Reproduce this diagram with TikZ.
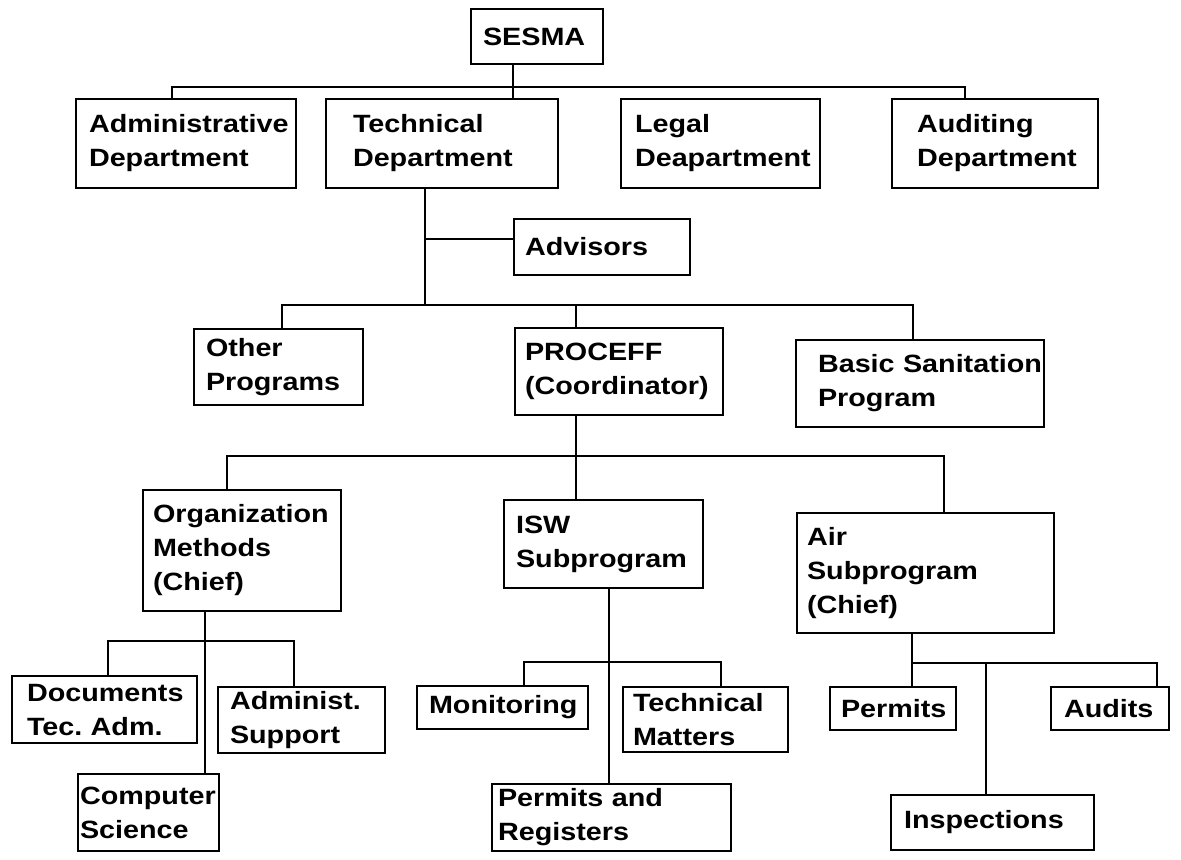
\documentclass[tikz,border=0pt]{standalone}
\usepackage{fontspec}
\newfontfamily\chartfont{Liberation Sans}[FakeStretch=1.15]
\begin{document}
\begin{tikzpicture}[x=0.5pt,y=0.5pt,yscale=-1,
  orgbox/.style={draw, line width=1pt, anchor=north west, align=left, inner ysep=0pt,
    font=\chartfont\bfseries\fontsize{12.5}{17}\selectfont},
  link/.style={line width=1.2pt}]
\useasboundingbox (0,0) rectangle (1181,859);

% Boxes: top level
\node[orgbox, minimum width=66pt, minimum height=27.5pt, inner xsep=6pt, text width=54pt] (sesma) at (470,8) {SESMA};
\node[orgbox, minimum width=110pt, minimum height=44.5pt, inner xsep=6.5pt, text width=97pt] (admin) at (75,98) {Administrative\\Department};
\node[orgbox, minimum width=116pt, minimum height=44.5pt, inner xsep=13.5pt, text width=89pt] (tech) at (325,98) {Technical\\Department};
\node[orgbox, minimum width=99.5pt, minimum height=44.5pt, inner xsep=7pt, text width=85.5pt] (legal) at (620,98) {Legal\\Deapartment};
\node[orgbox, minimum width=103pt, minimum height=44.5pt, inner xsep=12.5pt, text width=78pt] (audit) at (891,98) {Auditing\\Department};
\node[orgbox, minimum width=88pt, minimum height=28pt, inner xsep=5.5pt, text width=77pt] (advisors) at (513,218) {Advisors};

% Boxes: programs
\node[orgbox, minimum width=84.5pt, minimum height=38pt, inner xsep=6pt, text width=72.5pt] (other) at (193,328) {Other\\Programs};
\node[orgbox, minimum width=104pt, minimum height=43.5pt, inner xsep=5pt, text width=94pt] (proceff) at (514,327) {PROCEFF\\(Coordinator)};
\node[orgbox, minimum width=124pt, minimum height=43.5pt, inner xsep=11pt, text width=102pt] (basic) at (795,339) {\mbox{Basic Sanitation}\\Program};

% Boxes: subprograms
\node[orgbox, minimum width=99pt, minimum height=60.5pt, inner xsep=5pt, text width=89pt] (orgm) at (142,489) {Organization\\Methods\\(Chief)};
\node[orgbox, minimum width=99.5pt, minimum height=44pt, inner xsep=6pt, text width=87.5pt] (isw) at (503,499) {ISW\\Subprogram};
\node[orgbox, minimum width=128.5pt, minimum height=60pt, inner xsep=5pt, text width=118.5pt] (air) at (796,512) {Air\\Subprogram\\(Chief)};

% Boxes: units
\node[orgbox, minimum width=92.5pt, minimum height=33.5pt, inner xsep=7.5pt, text width=77.5pt] (docs) at (11,675) {Documents\\Tec.\ Adm.};
\node[orgbox, minimum width=70.5pt, minimum height=38.5pt, inner xsep=1pt, text width=68.5pt] (compsci) at (77,773) {Computer\\Science};
\node[orgbox, minimum width=83.5pt, minimum height=33pt, inner xsep=6pt, text width=71.5pt] (adsup) at (217,686) {Administ.\\Support};
\node[orgbox, minimum width=85.5pt, minimum height=21.5pt, inner xsep=6pt, text width=73.5pt] (monit) at (416,685) {Monitoring};
\node[orgbox, minimum width=82.5pt, minimum height=32.5pt, inner xsep=5pt, text width=72.5pt] (techm) at (622,686) {Technical\\Matters};
\node[orgbox, minimum width=119.5pt, minimum height=33.5pt, inner xsep=3pt, text width=113.5pt] (permreg) at (491,783) {Permits and\\Registers};
\node[orgbox, minimum width=63pt, minimum height=21.5pt, inner xsep=5.5pt, text width=52pt] (permits) at (829,686) {Permits};
\node[orgbox, minimum width=59pt, minimum height=21.5pt, inner xsep=6.5pt, text width=46pt] (audits) at (1050,686) {Audits};
\node[orgbox, minimum width=101.5pt, minimum height=27.5pt, inner xsep=6.5pt, text width=88.5pt] (insp) at (890,794) {Inspections};

% Junction points
\coordinate (s1) at (513,87);
\coordinate (b1w) at (172,87);
\coordinate (b1e) at (965,87);
\coordinate (t1) at (425,305);
\coordinate (a1) at (425,239);
\coordinate (b2w) at (282,305);
\coordinate (b2e) at (913,305);
\coordinate (p1) at (576,305);
\coordinate (b3w) at (227,456);
\coordinate (b3e) at (944,456);
\coordinate (o1) at (205,641);
\coordinate (b4w) at (108,641);
\coordinate (b4e) at (294,641);
\coordinate (i1) at (609,662);
\coordinate (b5w) at (524,662);
\coordinate (b5e) at (721,662);
\coordinate (r1) at (912,663);
\coordinate (r2) at (986,663);
\coordinate (b6e) at (1157,663);

% Connectors
\draw[link] (s1 |- sesma.south) -- (s1 |- tech.north);
\draw[link] (b1w |- admin.north) -- (b1w) -- (b1e) -- (b1e |- audit.north);
\draw[link] (t1 |- tech.south) -- (t1);
\draw[link] (a1) -- (a1 -| advisors.west);
\draw[link] (b2w |- other.north) -- (b2w) -- (b2e) -- (b2e |- basic.north);
\draw[link] (p1) -- (p1 |- proceff.north);
\draw[link] (p1 |- proceff.south) -- (p1 |- isw.north);
\draw[link] (b3w |- orgm.north) -- (b3w) -- (b3e) -- (b3e |- air.north);
\draw[link] (o1 |- orgm.south) -- (o1 |- compsci.north);
\draw[link] (b4w |- docs.north) -- (b4w) -- (b4e) -- (b4e |- adsup.north);
\draw[link] (i1 |- isw.south) -- (i1 |- permreg.north);
\draw[link] (b5w |- monit.north) -- (b5w) -- (b5e) -- (b5e |- techm.north);
\draw[link] (r1 |- air.south) -- (r1 |- permits.north);
\draw[link] (r1) -- (b6e) -- (b6e |- audits.north);
\draw[link] (r2) -- (r2 |- insp.north);

\end{tikzpicture}
\end{document}
